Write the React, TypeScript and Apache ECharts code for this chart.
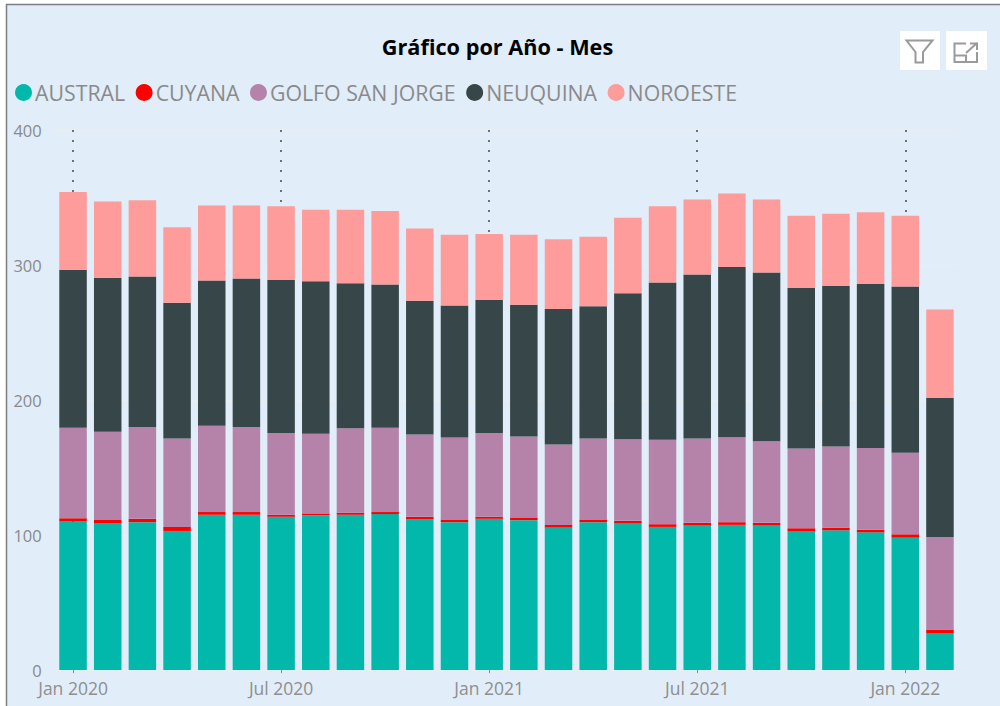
import React, { useEffect, useRef } from "react";
import * as echarts from "echarts";

const months = ["Jan 2020","Feb 2020","Mar 2020","Apr 2020","May 2020","Jun 2020","Jul 2020","Aug 2020","Sep 2020","Oct 2020","Nov 2020","Dec 2020","Jan 2021","Feb 2021","Mar 2021","Apr 2021","May 2021","Jun 2021","Jul 2021","Aug 2021","Sep 2021","Oct 2021","Nov 2021","Dec 2021","Jan 2022","Feb 2022"];
const austral = [110,108.5,109.5,103,115,115,113.5,114.5,115,115.5,111.5,109.5,112,111,105.5,109.5,108.5,106,107,107.5,107,102.5,103.5,102,98,27];
const cuyana = [2.5,3,2.5,3,2,2,1.5,1.5,1.5,1.5,2,2,1.5,2,2,2,2,2,2,2,2,2.5,2,2,2.5,3];
const golfo = [67,65,68,65.5,64,63,60.5,59,62.5,62.5,61,61,62,60,59.5,60,60.5,62.5,62.5,63,60.5,59,60,60.5,60.5,68.5];
const neuquina = [117,114,111.5,100.5,107.5,110,113.5,113,107.5,106,99,97.5,98.5,97.5,100.5,98,108,116.5,121.5,126,125,119,119,121.5,123,103];
const noroeste = [57.5,56.5,56.5,56,55.5,54,54.5,53,54.5,54.5,53.5,52.5,49,52,51.5,51.5,56,56.5,55.5,54.5,54,53.5,53.5,53,52.5,65.5];

const FONT = "'Open Sans', sans-serif";
const bar = (name: string, data: number[], color: string) => ({
  name, type: "bar", stack: "total", data, barWidth: 27.5,
  itemStyle: { color }, emphasis: { disabled: true },
});

export default function App() {
  const ref = useRef<HTMLDivElement>(null);
  useEffect(() => {
    const chart = echarts.init(ref.current!, null, { renderer: "svg" });
    const iconStroke = { stroke: "#9a9a9a", lineWidth: 2, fill: "none" };
    chart.setOption({
      animation: false,
      backgroundColor: "#ffffff",
      title: {
        text: "Gráfico por Año - Mes", left: 492.5, top: 30, textAlign: "center",
        textStyle: { fontFamily: FONT, fontSize: 21.7, fontWeight: "bold", color: "#000000" },
      },
      legend: {
        left: 10, top: 77, icon: "circle", itemWidth: 17, itemHeight: 17, itemGap: 10.5,
        textStyle: { fontFamily: FONT, fontSize: 21.3, color: "#8a8a8a", padding: [0, 0, 0, -2] },
      },
      grid: { left: 55.7, right: 42.7, top: 130, bottom: 36 },
      xAxis: {
        type: "category", data: months,
        axisLine: { show: false },
        axisTick: { show: true, alignWithLabel: true, interval: 5, length: 3, lineStyle: { color: "#8a8a8a" } },
        axisLabel: { interval: 5, fontFamily: FONT, fontSize: 17.5, color: "#8f8f8f", margin: 9 },
        splitLine: {
          show: true, interval: 5, alignWithLabel: true,
          lineStyle: { color: "#6f6f6f", type: [2, 8], width: 2 },
        },
      },
      yAxis: {
        type: "value", min: 0, max: 400, interval: 100,
        axisLine: { show: false }, axisTick: { show: false },
        axisLabel: { fontFamily: FONT, fontSize: 16.5, color: "#8a8a8a", margin: 14 },
        splitLine: { show: true, lineStyle: { color: "#ebeef0", width: 1 } },
      },
      series: [
        bar("AUSTRAL", austral, "#01B8AA"),
        bar("CUYANA", cuyana, "#FD0000"),
        bar("GOLFO SAN JORGE", golfo, "#B583A9"),
        bar("NEUQUINA", neuquina, "#374649"),
        bar("NOROESTE", noroeste, "#FD9C9A"),
      ],
      graphic: [
        { type: "rect", z: -10, silent: true, shape: { x: 6.5, y: 4.5, width: 1000, height: 720 }, style: { fill: "#E1EDF9", stroke: "#7f7f7f", lineWidth: 1.5 } },
        { type: "rect", silent: true, shape: { x: 900, y: 31, width: 40, height: 39 }, style: { fill: "#ffffff" } },
        { type: "rect", silent: true, shape: { x: 946, y: 31, width: 41, height: 39 }, style: { fill: "#ffffff" } },
        { type: "polygon", silent: true, shape: { points: [[906.5, 40.5], [932.5, 40.5], [923, 52], [923, 62.5], [915.5, 62.5], [915.5, 52]] }, style: iconStroke },
        { type: "polyline", silent: true, shape: { points: [[966, 43.5], [954.5, 43.5], [954.5, 62], [977, 62], [977, 52]] }, style: iconStroke },
        { type: "polyline", silent: true, shape: { points: [[954.5, 55.5], [966, 55.5], [966, 62]] }, style: iconStroke },
        { type: "polyline", silent: true, shape: { points: [[966, 53], [977, 43]] }, style: iconStroke },
        { type: "polyline", silent: true, shape: { points: [[970, 43.5], [977, 43.5], [977, 50]] }, style: iconStroke },
      ],
    });
    return () => chart.dispose();
  }, []);
  return <div ref={ref} style={{ position: "fixed", left: 0, top: 0, width: 1000, height: 706 }} />;
}
